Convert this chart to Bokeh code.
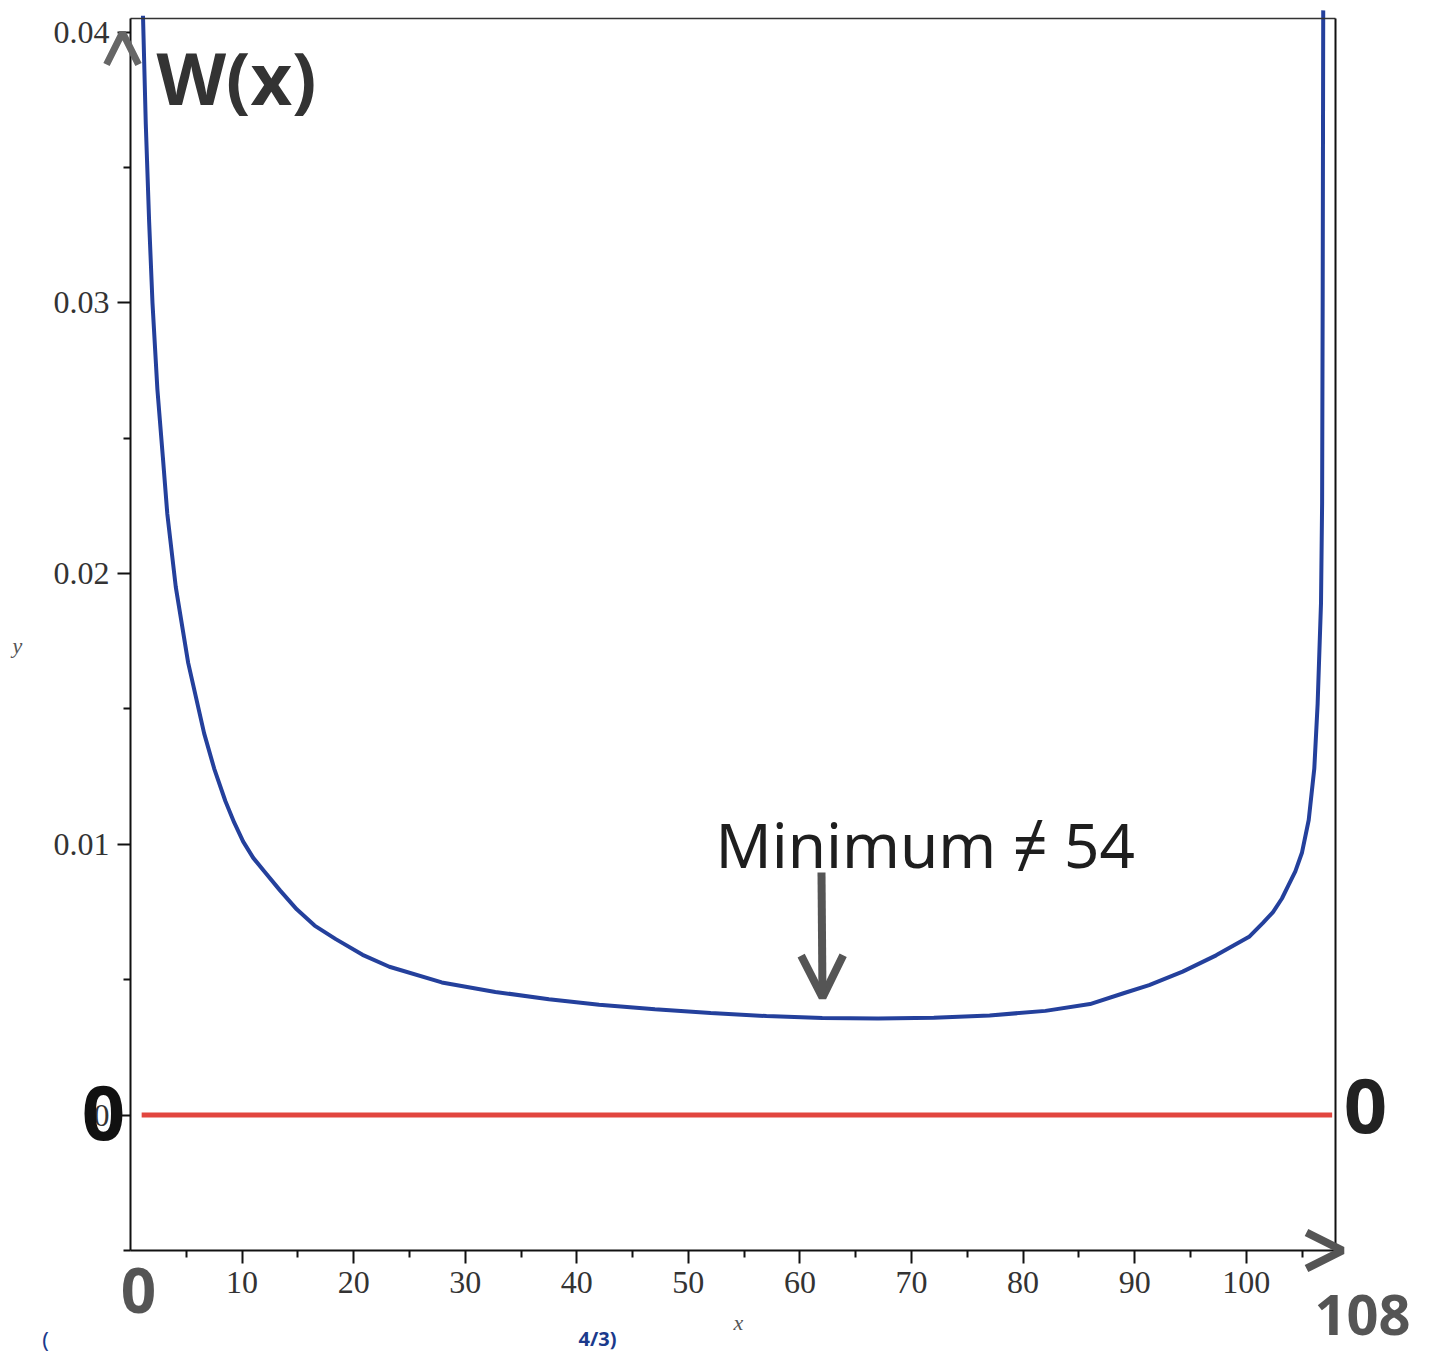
from bokeh.plotting import figure
from bokeh.models import Range1d, FixedTicker, Label, Arrow, OpenHead, LinearAxis
from bokeh.embed import file_html
from bokeh.resources import INLINE

# ---- data ----
x_w = [1.12, 1.37, 1.67, 1.97, 2.41, 2.9, 3.3, 4.06, 5.17, 6.6, 7.5, 8.5, 9.3, 10.1,
       11.0, 12.0, 13.4, 14.9, 16.5, 18.4, 20.8, 23.2, 27.9, 32.7, 37.5, 42, 47, 52,
       57, 62, 67, 72, 77, 82, 86, 89, 91.3, 94.3, 97.3, 100.3, 101.5, 102.4, 103.2,
       103.8, 104.4, 105.0, 105.6, 106.1, 106.4, 106.7, 106.8, 106.85, 106.9]
y_w = [0.0406, 0.0366, 0.0330, 0.0300, 0.0268, 0.0243, 0.0222, 0.0195, 0.0167,
       0.0141, 0.0128, 0.0116, 0.0108, 0.0101, 0.0095, 0.0090, 0.0083, 0.0076,
       0.0070, 0.0065, 0.00592, 0.00548, 0.0049, 0.00455, 0.00428, 0.00408, 0.00391,
       0.00377, 0.00366, 0.00359, 0.00357, 0.00360, 0.00368, 0.00385, 0.0041,
       0.0045, 0.0048, 0.0053, 0.0059, 0.0066, 0.0071, 0.0075, 0.0080, 0.0085,
       0.0090, 0.0097, 0.0109, 0.0128, 0.0152, 0.0189, 0.0226, 0.0300, 0.0408]

x_zero = [1.0, 107.7]
y_zero = [0.0, 0.0]

x_ticks = [10, 20, 30, 40, 50, 60, 70, 80, 90, 100]
x_tick_labels = ["10", "20", "30", "40", "50", "60", "70", "80", "90", "100"]
x_minor = [5, 15, 25, 35, 45, 55, 65, 75, 85, 95, 105]
y_ticks = [0.0, 0.01, 0.02, 0.03, 0.04]
y_tick_labels = ["0", "0.01", "0.02", "0.03", "0.04"]
y_minor = [-0.005, 0.005, 0.015, 0.025, 0.035]

# plot box (data) and its place on the page (pixels)
X0, X1 = 0, 108
Y0, Y1 = -0.005, 0.0405
W, H = 1441, 1355
BL, BR, BT, BB = 130, 1335, 18, 1250
SX = (X1 - X0) / (BR - BL)
SY = (Y1 - Y0) / (BB - BT)


def dx(px):
    return X0 + (px - BL) * SX


def dy(py):
    return Y1 - (py - BT) * SY


p = figure(width=W, height=H, x_range=Range1d(dx(0), dx(W)),
           y_range=Range1d(dy(H), dy(0)), output_backend="svg",
           toolbar_location=None, x_axis_type=None, y_axis_type=None,
           min_border=0)
p.grid.visible = False
p.background_fill_color = "white"
p.border_fill_color = "white"
p.outline_line_color = None


def make_axis(ticks, minor, labels, loc, bounds):
    ax = LinearAxis(ticker=FixedTicker(ticks=ticks, minor_ticks=minor),
                    fixed_location=loc, bounds=bounds)
    ax.major_label_overrides = {t: l for t, l in zip(ticks, labels)}
    ax.axis_line_color = "#111111"
    ax.axis_line_width = 2
    ax.major_tick_line_color = "#111111"
    ax.minor_tick_line_color = "#111111"
    ax.major_tick_line_width = 2
    ax.minor_tick_line_width = 2
    ax.major_tick_in = 0
    ax.major_tick_out = 13
    ax.minor_tick_in = 0
    ax.minor_tick_out = 7
    ax.major_label_text_font = "Liberation Serif"
    ax.major_label_text_font_size = "32px"
    ax.major_label_text_color = "#333333"
    ax.major_label_standoff = 8
    return ax


p.add_layout(make_axis(x_ticks, x_minor, x_tick_labels, Y0, (X0, X1)), "below")
p.add_layout(make_axis(y_ticks, y_minor, y_tick_labels, X0, (Y0, Y1)), "left")
top = make_axis([], [], [], Y1, (X0, X1))
top.axis_line_width = 1.5
top.axis_line_color = "#333333"
p.add_layout(top, "above")
right = make_axis([], [], [], X1, (Y0, Y1))
right.axis_line_width = 2
p.add_layout(right, "right")

p.line(x_zero, y_zero, line_color="#e2463f", line_width=5)
p.line(x_w, y_w, line_color="#24409c", line_width=4)

p.add_layout(Label(x=dx(17), y=dy(645), text="y", text_font="Liberation Serif",
                   text_font_style="italic", text_font_size="22px",
                   text_color="#555555", text_align="center", text_baseline="middle"))
p.add_layout(Label(x=dx(738), y=dy(1322), text="x", text_font="Liberation Serif",
                   text_font_style="italic", text_font_size="22px",
                   text_color="#555555", text_align="center", text_baseline="middle"))

# handwritten annotations
hand = "Noto Sans"
p.add_layout(Label(x=dx(236), y=dy(76), text="W(x)", text_font=hand,
                   text_font_style="bold", text_font_size="72px", text_color="#333333",
                   text_align="center", text_baseline="middle"))
p.add_layout(Label(x=dx(715), y=dy(843), text="Minimum ≠ 54", text_font=hand,
                   text_font_size="62px", text_color="#1e1e1e",
                   text_align="left", text_baseline="alphabetic"))
p.add_layout(Arrow(x_start=dx(821), y_start=dy(872), x_end=dx(822), y_end=dy(997),
                   line_color="#555555", line_width=8,
                   end=OpenHead(size=42, line_width=8, line_color="#555555")))
p.add_layout(Label(x=dx(103), y=dy(1112), text="0", text_font=hand,
                   text_font_style="bold", text_font_size="76px", text_color="#111111",
                   text_align="center", text_baseline="middle"))
p.add_layout(Label(x=dx(1365), y=dy(1105), text="0", text_font=hand,
                   text_font_style="bold", text_font_size="76px", text_color="#222222",
                   text_align="center", text_baseline="middle"))
p.add_layout(Label(x=dx(138), y=dy(1290), text="0", text_font=hand,
                   text_font_style="bold", text_font_size="62px", text_color="#555555",
                   text_align="center", text_baseline="middle"))
p.add_layout(Label(x=dx(1362), y=dy(1314), text="108", text_font=hand,
                   text_font_style="bold", text_font_size="56px", text_color="#555555",
                   text_align="center", text_baseline="middle"))
p.add_layout(Arrow(x_start=dx(122), y_start=dy(80), x_end=dx(122), y_end=dy(32),
                   line_alpha=0, line_width=1,
                   end=OpenHead(size=32, line_width=7, line_color="#666666")))
p.add_layout(Arrow(x_start=dx(1290), y_start=dy(1250), x_end=dx(1342), y_end=dy(1250),
                   line_alpha=0, line_width=1,
                   end=OpenHead(size=36, line_width=8, line_color="#555555")))
p.add_layout(Label(x=dx(45), y=dy(1338), text="(", text_font=hand,
                   text_font_size="22px", text_color="#1b3a8c",
                   text_align="center", text_baseline="middle"))
p.add_layout(Label(x=dx(597), y=dy(1338), text="4/3)", text_font=hand,
                   text_font_style="bold", text_font_size="20px", text_color="#1b3a8c",
                   text_align="center", text_baseline="middle"))

open("out.html", "w").write(file_html(p, INLINE))
